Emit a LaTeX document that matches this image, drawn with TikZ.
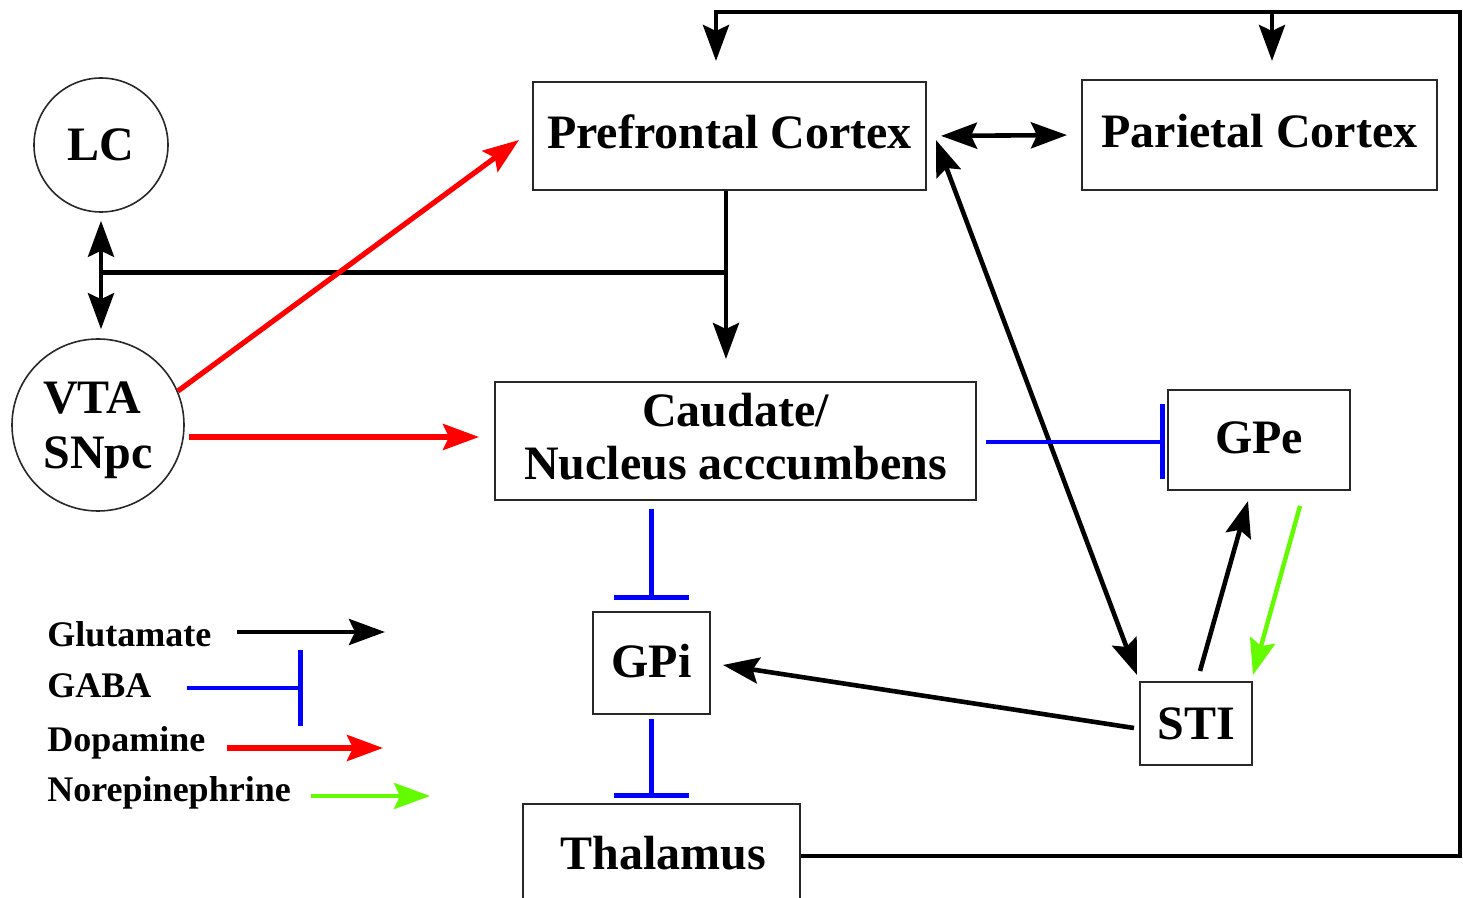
\documentclass[tikz,border=0pt]{standalone}
\usepackage{fontspec}
\setmainfont{Liberation Serif}
\usetikzlibrary{arrows.meta,calc}
\definecolor{norgreen}{RGB}{100,250,0}
\definecolor{boxline}{RGB}{40,40,40}
\tikzset{
  box/.style={draw=boxline,line width=1pt,fill=white,inner sep=0pt,font=\bfseries\fontsize{24}{26.5}\selectfont,align=center},
  circ/.style={draw=boxline,line width=0.8pt,circle,inner sep=0pt,font=\bfseries\fontsize{24}{27.5}\selectfont,align=left},
  legtext/.style={anchor=west,inner sep=0pt,font=\bfseries\fontsize{18}{20}\selectfont},
  tip/.style={-{Stealth[length=18pt,width=13pt,inset=3pt]}},
  dtip/.style={{Stealth[length=18pt,width=13pt,inset=3pt]}-{Stealth[length=18pt,width=13pt,inset=3pt]}},
  glu/.style={line width=2.3pt,black},
  dop/.style={line width=2.6pt,red,tip},
  nor/.style={line width=2.2pt,norgreen,tip},
  gaba/.style={line width=2.2pt,blue,-{Bar[width=37.5pt,line width=2.6pt]}},
}
\begin{document}
\begin{tikzpicture}[x=0.5pt,y=-0.5pt]
\useasboundingbox (0,0) rectangle (1463,898);
\fill[white] (0,0) rectangle (1463,898);

% nodes
\node[circ,minimum size=67pt] (lc) at (101,145) {LC};
\node[circ,minimum size=86pt,text depth=0pt] (vta) at (98,425) {VTA\\SNpc};
\node[box,minimum width=196.5pt,minimum height=54pt,text depth=4pt] (pfc) at (729.5,136) {Prefrontal Cortex};
\node[box,minimum width=177.5pt,minimum height=55pt,text depth=4pt] (par) at (1259.5,135) {Parietal Cortex};
\node[box,minimum width=240.5pt,minimum height=59pt,text depth=5pt] (caud) at (735.5,441) {Caudate/\\Nucleus acccumbens};
\node[box,minimum width=91pt,minimum height=50pt,text depth=2pt] (gpe) at (1259,440) {GPe};
\node[box,minimum width=58.5pt,minimum height=51pt,text depth=2pt] (gpi) at (651.5,663) {GPi};
\node[box,minimum width=56pt,minimum height=41.5pt] (sti) at (1196,723.5) {STI};
\node[box,minimum width=138.5pt,minimum height=63pt,text depth=0pt] (thal) at (661.5,867) {};
\node[inner sep=0pt,font=\bfseries\fontsize{24}{26}\selectfont] (thaltxt) at (663,853) {Thalamus};

% top loop from thalamus
\coordinate (tr) at (1460,12);
\draw[glu,tip] ($(thal.east)+(0,-11)$) -| (tr) -| ($(pfc.north)+(-13.5,-20)$);
\draw[glu,tip] ($(par.north)+(12.5,-68)$) -- ($(par.north)+(12.5,-18)$);

% PFC <-> parietal
\draw[glu,dtip,shorten <=7pt,shorten >=7pt] (pfc.east) -- (par.west);

% PFC -> caudate with branch to LC/VTA
\draw[glu,tip] (pfc.south -| 726,0) -- ($(caud.north -| 726,0)+(0,-22)$);
\coordinate (lcvta) at ($(lc.south)!0.5!(lc.south |- vta.north)+(0,-3)$);
\draw[glu] (lcvta) -- (lcvta -| 726,0);
\draw[glu,dtip,shorten <=4pt,shorten >=4.5pt] (lc.south) -- (lc.south |- vta.north);

% dopamine
\draw[dop] (vta.23) -- ($(pfc.west)+(-13,4)$);
\draw[dop] ($(vta.east)+(4,12)$) -- ($(caud.west)+(-15,-4)$);

% STI <-> PFC
\draw[glu,dtip] ($(pfc.east)+(9,4)$) -- ($(sti.north west)+(-2,-6)$);
% STI -> GPe
\draw[glu,tip] ($(sti.north)+(4,-10)$) -- ($(gpe.south)+(-11,10)$);
% GPe -> STI (norepinephrine)
\draw[nor] ($(gpe.south)+(41,15)$) -- ($(sti.north east)+(0,-6)$);
% STI -> GPi
\draw[glu,tip] ($(sti.west)+(-5,4.5)$) -- ($(gpi.east)+(12,2)$);

% GABA
\draw[gaba] ($(caud.east)+(9,1)$) -- ($(gpe.west)+(-2,2)$);
\draw[gaba] ($(gpi.north |- caud.south)+(0,8)$) -- ($(gpi.north)+(0,-11)$);
\draw[gaba] ($(gpi.south)+(0,4)$) -- ($(gpi.south |- thal.north)+(0,-5)$);

% legend
\node[legtext] (lglu) at (47,634) {Glutamate};
\node[legtext] (lgaba) at (47,686) {GABA};
\node[legtext] (ldop) at (47,743) {Dopamine};
\node[legtext] (lnor) at (47,793) {Norepinephrine};
\coordinate (g1) at (237,632); \coordinate (g2) at (385,632);
\coordinate (b1) at (187,688); \coordinate (b2) at (303,688);
\coordinate (d1) at (227,748); \coordinate (d2) at (383,748);
\coordinate (n1) at (311,796); \coordinate (n2) at (430,796);
\draw[glu,tip] (g1) -- (g2);
\draw[gaba] (b1) -- (b2);
\draw[dop] (d1) -- (d2);
\draw[nor] (n1) -- (n2);
\end{tikzpicture}
\end{document}
